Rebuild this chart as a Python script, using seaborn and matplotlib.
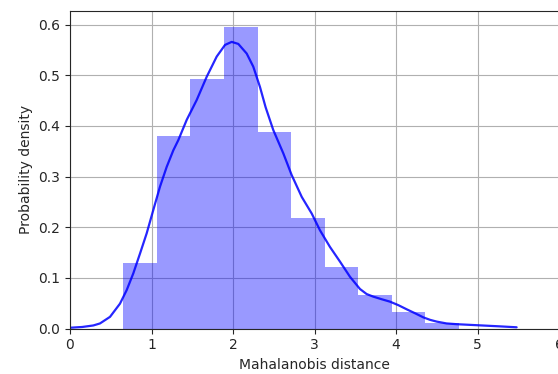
import numpy as np
import pandas as pd
import matplotlib
matplotlib.use("Agg")
import matplotlib.pyplot as plt
import seaborn as sns

# histogram (density per bin)
bin_edges = [0.654, 1.066, 1.478, 1.889, 2.301, 2.713, 3.125, 3.537, 3.948, 4.360, 4.772]
densities = [0.129, 0.380, 0.492, 0.596, 0.388, 0.218, 0.121, 0.066, 0.032, 0.011]

# kde curve
kde_x = [0.0, 0.15, 0.286, 0.368, 0.491, 0.613, 0.696, 0.777, 0.859, 0.941, 1.022,
         1.104, 1.186, 1.268, 1.329, 1.432, 1.554, 1.677, 1.80, 1.902, 1.984, 2.065,
         2.168, 2.249, 2.331, 2.40, 2.494, 2.617, 2.72, 2.843, 2.966, 3.067, 3.19,
         3.313, 3.436, 3.558, 3.64, 3.72, 3.82, 3.926, 4.03, 4.13, 4.235, 4.335,
         4.42, 4.50, 4.62, 4.745, 5.03, 5.276, 5.48]
kde_y = [0.0015, 0.003, 0.006, 0.010, 0.023, 0.049, 0.076, 0.109, 0.148, 0.188, 0.234,
         0.280, 0.319, 0.352, 0.372, 0.412, 0.451, 0.497, 0.537, 0.560, 0.566, 0.562,
         0.543, 0.517, 0.477, 0.437, 0.392, 0.346, 0.303, 0.260, 0.227, 0.194, 0.161,
         0.132, 0.102, 0.078, 0.068, 0.063, 0.058, 0.053, 0.046, 0.038, 0.030, 0.022,
         0.017, 0.0136, 0.010, 0.0085, 0.0062, 0.0042, 0.0024]

centers = [(a + b) / 2 for a, b in zip(bin_edges[:-1], bin_edges[1:])]
hist_df = pd.DataFrame({"d": centers, "w": densities})
kde_df = pd.DataFrame({"x": kde_x, "y": kde_y})

sns.set_style("ticks")
plt.rcParams['font.family'] = ['DejaVu Sans']

fig = plt.figure(figsize=(5.58, 3.74), dpi=100)
ax = fig.add_axes([70 / 558, 1 - 328.5 / 374, 489 / 558, 317.5 / 374])

sns.histplot(data=hist_df, x="d", weights="w", bins=bin_edges, stat="count",
             color="blue", alpha=0.4, linewidth=0, ax=ax)
sns.lineplot(data=kde_df, x="x", y="y", color="blue", linewidth=1.6, alpha=0.85, ax=ax)

ax.set_xlim(0, 6)
ax.set_ylim(0, 0.627)
ax.set_xticks([0, 1, 2, 3, 4, 5, 6])
ax.set_yticks([0.0, 0.1, 0.2, 0.3, 0.4, 0.5, 0.6])
ax.grid(True, color="#b0b0b0", linewidth=0.8)
ax.set_axisbelow(True)
ax.set_xlabel("Mahalanobis distance", fontsize=10)
ax.set_ylabel("Probability density", fontsize=10)
ax.tick_params(labelsize=10)

fig.savefig("out.png", dpi=100)
